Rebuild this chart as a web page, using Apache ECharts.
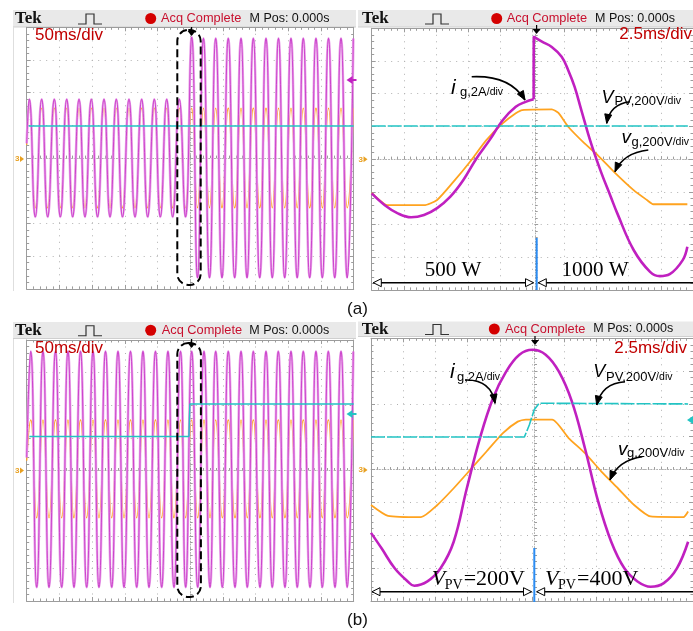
<!DOCTYPE html>
<html>
<head>
<meta charset="utf-8">
<script src="https://cdn.jsdelivr.net/npm/echarts@6.0.0/dist/echarts.min.js"></script>
<style>
html,body{margin:0;padding:0;background:#ffffff;}
#chart{width:693px;height:631px;}
</style>
</head>
<body>
<div id="chart"></div>
<script>
// ---- data: time in ms, amplitude in screen divisions ----
// (a) left, 50 ms/div
const igLeftA = [[0,0.45],[4.0,1.8],[13.1,-1.8],[22.9,1.8],[32.1,-1.8],[42.2,1.8],[51.4,-1.8],[61.2,1.8],[70.3,-1.8],[80.0,1.8],[89.1,-1.8],[98.8,1.8],[108.3,-1.8],[118.2,1.8],[127.4,-1.8],[137.0,1.8],[146.5,-1.8],[156.4,1.8],[165.6,-1.8],[175.8,1.8],[185.0,-1.8],[195.1,1.8],[204.3,-1.8],[214.1,1.8],[223.2,-1.8],[233.3,1.8],[242.8,-1.8],[252.3,3.7],[261.2,-3.66],[270.3,3.66],[279.5,-3.66],[289.0,3.66],[298.6,-3.66],[308.2,3.66],[318.0,-3.66],[327.7,3.66],[336.9,-3.66],[346.5,3.66],[356.3,-3.66],[365.9,3.66],[375.5,-3.66],[385.0,3.66],[394.5,-3.66],[404.1,3.66],[413.6,-3.66],[422.9,3.66],[432.7,-3.66],[442.3,3.66],[452.0,-3.66],[461.5,3.66],[471.0,-3.66],[480.6,3.66],[490.1,-3.66],[499.4,3.66]];
const vgLeftA = [[0,0.4],[4.0,1.53],[13.1,-1.52],[22.9,1.53],[32.1,-1.52],[42.2,1.53],[51.4,-1.52],[61.2,1.53],[70.3,-1.52],[80.0,1.53],[89.1,-1.52],[98.8,1.53],[108.3,-1.52],[118.2,1.53],[127.4,-1.52],[137.0,1.53],[146.5,-1.52],[156.4,1.53],[165.6,-1.52],[175.8,1.53],[185.0,-1.52],[195.1,1.53],[204.3,-1.52],[214.1,1.53],[223.2,-1.52],[233.3,1.53],[242.8,-1.52],[252.3,1.53],[261.2,-1.52],[270.3,1.53],[279.5,-1.52],[289.0,1.53],[298.6,-1.52],[308.2,1.53],[318.0,-1.52],[327.7,1.53],[336.9,-1.52],[346.5,1.53],[356.3,-1.52],[365.9,1.53],[375.5,-1.52],[385.0,1.53],[394.5,-1.52],[404.1,1.53],[413.6,-1.52],[422.9,1.53],[432.7,-1.52],[442.3,1.53],[452.0,-1.52],[461.5,1.53],[471.0,-1.52],[480.6,1.53],[490.1,-1.52],[499.4,1.53]];
const vpvLeftA = [[3,0.98],[500,0.98]];
// (a) right, 2.5 ms/div
const igRightA1 = [[0,-1.05],[1.02,-1.41],[2.03,-1.66],[3.06,-1.78],[4.07,-1.71],[5.09,-1.50],[6.12,-1.15],[7.13,-0.64],[8.15,0.02],[9.17,0.58],[10.19,1.19],[11.21,1.60],[11.97,1.75],[12.6,1.83]];
const igRightA2 = [[12.6,1.83],[12.61,3.74],[13.25,3.59],[14.01,3.43],[14.78,3.13],[15.29,2.72],[15.79,2.21],[16.31,1.50],[17.07,0.48],[17.84,-0.39],[18.60,-1.15],[19.11,-1.66],[20.38,-2.78],[21.66,-3.45],[22.42,-3.58],[23.19,-3.52],[24.20,-3.09],[24.56,-2.68]];
const vgRightA = [[0,-1.03],[1.27,-1.41],[4.07,-1.41],[5.09,-1.25],[6.37,-0.69],[7.65,-0.08],[8.92,0.58],[10.19,1.09],[11.21,1.40],[11.72,1.50],[14.01,1.52],[14.53,1.41],[15.29,0.99],[16.56,0.48],[17.58,0.12],[18.85,-0.39],[20.38,-0.95],[21.41,-1.25],[21.91,-1.38],[24.56,-1.38]];
const vpvRightA = [[0,1.01],[24.6,1.01]];
// (b) left, 50 ms/div
const igLeftB = [[0,0.4],[6.1,3.65],[15.3,-3.58],[24.9,3.65],[34.1,-3.58],[44.0,3.65],[53.5,-3.58],[63.1,3.65],[72.3,-3.58],[82.3,3.65],[91.7,-3.58],[101.4,3.65],[110.5,-3.58],[120.5,3.65],[130.0,-3.58],[139.6,3.65],[148.8,-3.58],[158.7,3.65],[168.2,-3.58],[177.8,3.65],[187.0,-3.58],[196.9,3.65],[206.4,-3.58],[216.0,3.65],[225.2,-3.58],[235.2,3.65],[243.1,-3.58],[252.3,3.65],[261.5,-3.58],[271.1,3.65],[280.3,-3.58],[289.0,3.65],[299.1,-3.58],[308.2,3.65],[318.5,-3.58],[327.7,3.65],[337.3,-3.58],[346.5,3.65],[356.7,-3.58],[365.9,3.65],[375.5,-3.58],[384.7,3.65],[394.9,-3.58],[404.1,3.65],[413.7,-3.58],[422.9,3.65],[433.2,-3.58],[442.3,3.65],[452.0,-3.58],[461.2,3.65],[471.4,-3.58],[480.6,3.65],[490.2,-3.58],[499.4,3.65]];
const vgLeftB = [[0,0.3],[6.1,1.55],[15.3,-1.45],[24.9,1.55],[34.1,-1.45],[44.0,1.55],[53.5,-1.45],[63.1,1.55],[72.3,-1.45],[82.3,1.55],[91.7,-1.45],[101.4,1.55],[110.5,-1.45],[120.5,1.55],[130.0,-1.45],[139.6,1.55],[148.8,-1.45],[158.7,1.55],[168.2,-1.45],[177.8,1.55],[187.0,-1.45],[196.9,1.55],[206.4,-1.45],[216.0,1.55],[225.2,-1.45],[235.2,1.55],[243.1,-1.45],[252.3,1.55],[261.5,-1.45],[271.1,1.55],[280.3,-1.45],[289.0,1.55],[299.1,-1.45],[308.2,1.55],[318.5,-1.45],[327.7,1.55],[337.3,-1.45],[346.5,1.55],[356.7,-1.45],[365.9,1.55],[375.5,-1.45],[384.7,1.55],[394.9,-1.45],[404.1,1.55],[413.7,-1.45],[422.9,1.55],[433.2,-1.45],[442.3,1.55],[452.0,-1.45],[461.2,1.55],[471.4,-1.45],[480.6,1.55],[490.2,-1.45],[499.4,1.55]];
const vpvLeftB = [[4,1.04],[248.0,1.04],[249.5,2.04],[500,2.04]];
// (b) right, 2.5 ms/div
const igRightB = [[0,-1.93],[0.82,-2.40],[1.84,-3.01],[2.85,-3.41],[3.36,-3.54],[4.38,-3.41],[5.40,-3.01],[6.42,-2.20],[7.44,-0.57],[8.46,0.96],[9.48,2.18],[10.50,2.99],[11.52,3.50],[12.54,3.65],[13.56,3.50],[14.58,2.99],[15.60,2.07],[16.61,0.65],[17.64,-0.98],[18.65,-2.20],[19.67,-3.01],[20.69,-3.41],[21.71,-3.57],[22.73,-3.46],[23.75,-3.01],[24.62,-2.20]];
const vgRightB = [[0,-1.08],[1.32,-1.41],[3.88,-1.45],[5.15,-1.08],[6.42,-0.57],[7.70,-0.01],[8.97,0.55],[10.24,1.11],[11.39,1.46],[12.03,1.52],[14.07,1.52],[15.34,0.96],[16.61,0.50],[17.89,-0.06],[19.17,-0.57],[20.43,-1.08],[21.71,-1.43],[24.26,-1.45],[24.62,-1.28]];
const vpvRightB = [[0,0.99],[11.91,0.99],[12.29,1.36],[12.67,1.82],[13.05,2.02],[13.43,2.02],[24.62,2.0]];

// ---- layout ----
const BORDER = '#9c9c9c', DOT = '#b0b0b0';
const MAG = '#c42cc4', MAG_L = '#eaa2ea', ORA = '#ffa31f', CYA = '#22c4c4';
const panels = [
  {left:26.7, top:27.3, w:327, h:261.6, xmax:500, xint:50},
  {left:371.7, top:28.3, w:327, h:261.6, xmax:25, xint:2.5},
  {left:26.7, top:340, w:327, h:261, xmax:500, xint:50},
  {left:371, top:338.3, w:327, h:262.5, xmax:25, xint:2.5}
];
const grid = [], xAxis = [], yAxis = [];
panels.forEach((p, gi) => {
  grid.push({left:p.left, top:p.top, width:p.w, height:p.h, show:false});
  const common = {
    gridIndex:gi, type:'value', axisLabel:{show:false},
    axisLine:{show:true, onZero:false, lineStyle:{color:BORDER, width:1}},
    axisTick:{show:true, inside:true, length:4, lineStyle:{color:BORDER}},
    minorTick:{show:true, splitNumber:5, length:2.5, lineStyle:{color:BORDER}},
    splitLine:{show:false}, minorSplitLine:{show:false}
  };
  const xc = Object.assign({}, common, {min:0, max:p.xmax, interval:p.xint});
  xAxis.push(Object.assign({}, xc, {position:'bottom', splitLine:{show:true, lineStyle:{color:DOT, type:[1,5.5], width:1}}}));
  xAxis.push(Object.assign({}, xc, {position:'top'}));
  xAxis.push(Object.assign({}, xc, {position:'bottom', offset:-p.h/2,
    axisLine:{show:true, onZero:false, lineStyle:{color:DOT, type:[1,1.8]}},
    axisTick:{show:true, inside:true, length:3, lineStyle:{color:BORDER}}}));
  const yc = Object.assign({}, common, {min:-4, max:4, interval:1});
  yAxis.push(Object.assign({}, yc, {position:'left', splitLine:{show:true, lineStyle:{color:DOT, type:[1,5.5], width:1}}}));
  yAxis.push(Object.assign({}, yc, {position:'right'}));
  yAxis.push(Object.assign({}, yc, {position:'left', offset:-p.w/2,
    axisLine:{show:true, onZero:false, lineStyle:{color:DOT, type:[1,1.8]}},
    axisTick:{show:true, inside:true, length:3, lineStyle:{color:BORDER}}}));
});

function ln(gi, data, color, width, z, smooth, extra) {
  return Object.assign({type:'line', xAxisIndex:3*gi, yAxisIndex:3*gi, data:data,
    symbol:'none', showSymbol:false, smooth:smooth||false, silent:true,
    lineStyle:{color:color, width:width}, z:z, animation:false}, extra||{});
}
const series = [
  ln(0, vgLeftA, ORA, 1.3, 2, 0.5),
  ln(0, igLeftA, MAG_L, 2.6, 3, 0.5),
  ln(0, igLeftA, MAG, 0.8, 4, 0.5),
  ln(0, vpvLeftA, CYA, 1.4, 5),
  ln(1, vgRightA, ORA, 1.8, 2, 0.2),
  ln(1, igRightA1, '#c020c0', 2.6, 3, 0.4),
  ln(1, igRightA2, '#c020c0', 2.6, 3, 0.4),
  ln(1, vpvRightA, CYA, 1.6, 4, false, {lineStyle:{color:CYA, width:1.6, type:[14,2]}}),
  ln(2, vgLeftB, ORA, 1.3, 2, 0.5),
  ln(2, igLeftB, MAG_L, 2.6, 3, 0.5),
  ln(2, igLeftB, MAG, 0.8, 4, 0.5),
  ln(2, vpvLeftB, CYA, 1.4, 5),
  ln(3, vgRightB, ORA, 1.8, 2, 0.2),
  ln(3, igRightB, '#c020c0', 2.6, 3, 0.4),
  ln(3, vpvRightB, CYA, 1.6, 4, false, {lineStyle:{color:CYA, width:1.6, type:[14,2]}})
];

// ---- graphic annotations ----
const G = [];
const SANS = '"Liberation Sans", Arial, sans-serif';
const SERIF = '"Liberation Serif", "Times New Roman", serif';
function txt(t, x, y, font, fill, align, z) {
  return {type:'text', z:z||100, style:{text:t, x:x, y:y, font:font, fill:fill||'#000',
    textAlign:align||'left', align:align||'left', textVerticalAlign:'middle', verticalAlign:'middle'}};
}
function rich(t, x, y, richDef) {
  return {type:'text', z:100, style:{text:t, x:x, y:y, rich:richDef, fill:'#000',
    textAlign:'left', align:'left', textVerticalAlign:'middle', verticalAlign:'middle'}};
}
function head(x, y, ang, len, wid, fill) {
  const bx = x - len*Math.cos(ang), by = y - len*Math.sin(ang);
  const px = -Math.sin(ang)*wid/2, py = Math.cos(ang)*wid/2;
  return {type:'polygon', z:100, shape:{points:[[x,y],[bx+px,by+py],[bx-px,by-py]]},
    style:{fill:fill||'#000', stroke:'#000', lineWidth:1}};
}
function curveArrow(x1, y1, cx, cy, x2, y2) {
  const ang = Math.atan2(y2-cy, x2-cx);
  G.push({type:'bezierCurve', z:100, shape:{x1:x1, y1:y1, x2:x2, y2:y2, cpx1:cx, cpy1:cy},
    style:{stroke:'#000', lineWidth:1.6, fill:null}});
  G.push(head(x2, y2, ang, 9, 7));
}
function header(x0, x1, y0, y1, tekX, pulseX, dotX, acqX, mposX) {
  const cy = (y0+y1)/2;
  G.push({type:'rect', z:0, shape:{x:x0, y:y0, width:x1-x0, height:y1-y0}, style:{fill:'#e9e9e9', stroke:null}});
  G.push({type:'line', z:0, shape:{x1:x0, y1:y1, x2:x1, y2:y1}, style:{stroke:'#cfcfcf', lineWidth:1}});
  G.push(txt('Tek', tekX, cy+0.5, 'bold 17px ' + SERIF, '#111'));
  const yb = cy+5.5, yt = cy-4.5, p = pulseX;
  G.push({type:'polyline', z:100, shape:{points:[[p,yb],[p+8,yb],[p+8,yt],[p+16,yt],[p+16,yb],[p+24,yb]]},
    style:{stroke:'#333', lineWidth:1.2, fill:null}});
  G.push({type:'circle', z:100, shape:{cx:dotX, cy:cy, r:5.5}, style:{fill:'#d40000'}});
  G.push(txt('Acq Complete', acqX, cy, '12.8px ' + SANS, '#c8102e'));
  G.push(txt('M Pos: 0.000s', mposX, cy, '12.5px ' + SANS, '#111'));
}
header(13, 356, 10, 27, 15, 78, 150.7, 161, 249.5);
header(358, 693, 10, 27, 362, 425, 496.7, 506.7, 595);
header(13, 356, 322, 338.5, 15, 78, 150.7, 161.7, 249.3);
header(358, 693, 321.5, 336.5, 361.7, 425, 494.3, 505, 593.3);

// faint screen frame lines
[[13.5,27,13.5,291],[13.5,339,13.5,603]].forEach(s => G.push({type:'line', z:0,
  shape:{x1:s[0], y1:s[1], x2:s[2], y2:s[3]}, style:{stroke:'#dedede', lineWidth:1}}));

// channel markers
function chMarker(x, y, color) {
  G.push(txt('3', x, y, 'bold 8px ' + SANS, color));
  G.push({type:'polygon', z:100, shape:{points:[[x+5,y-3],[x+5,y+3],[x+9,y]]}, style:{fill:color}});
}
chMarker(15, 159, '#e8a020');
chMarker(358.5, 159.3, '#e8a020');
chMarker(15, 470.5, '#e8a020');
chMarker(358.5, 470, '#e8a020');
function leftMarker(x, y, color) {
  G.push({type:'polygon', z:100, shape:{points:[[x,y],[x+6,y-4],[x+6,y+4]]}, style:{fill:color}});
  G.push({type:'line', z:100, shape:{x1:x+5, y1:y, x2:x+10, y2:y}, style:{stroke:color, lineWidth:2}});
}
leftMarker(346.5, 80, '#c020c0');
leftMarker(346.5, 414, CYA);
leftMarker(687, 420, CYA);

// time-base texts
G.push(txt('50ms/div', 35, 35, '17px ' + SANS, '#c00000'));
G.push(txt('50ms/div', 35, 348, '17px ' + SANS, '#c00000'));
G.push(txt('2.5ms/div', 692, 34, '17px ' + SANS, '#c00000', 'right'));
G.push(txt('2.5ms/div', 687, 348.5, '17px ' + SANS, '#c00000', 'right'));

// dashed capsules around the transient (left panels)
G.push({type:'rect', z:100, shape:{x:177.3, y:30, width:23.4, height:255, r:11},
  style:{fill:null, stroke:'#000', lineWidth:2, lineDash:[8,4]}});
G.push({type:'rect', z:100, shape:{x:177.3, y:343, width:23.6, height:254, r:11},
  style:{fill:null, stroke:'#000', lineWidth:2, lineDash:[8,4]}});

// trigger markers
function trig(x, y) {
  G.push({type:'polygon', z:101, shape:{points:[[x-4,y],[x+4,y],[x,y+5]]}, style:{fill:'#000'}});
  G.push({type:'line', z:101, shape:{x1:x, y1:y-4, x2:x, y2:y}, style:{stroke:'#000', lineWidth:1.2}});
}
trig(191.6, 31);
trig(191.6, 343);
trig(536.6, 29);
trig(535, 340);

// signal labels
const subRich = {a:{fontSize:13, fontFamily:'Liberation Sans', fill:'#000'}, b:{fontSize:10.5, fontFamily:'Liberation Sans', fill:'#000'}};
function sigLabel(main, mainSize, mx, my, sub, sx, sy) {
  G.push(txt(main, mx, my, 'italic ' + mainSize + 'px ' + SANS, '#000'));
  G.push(rich(sub, sx, sy, subRich));
}
// (a) right
sigLabel('i', 21, 451, 88, '{a|g,2A}{b|/div}', 460, 92.5);
sigLabel('V', 18, 601.5, 98, '{a|PV,200V}{b|/div}', 614.5, 101);
sigLabel('v', 19, 621.5, 138, '{a|g,200V}{b|/div}', 631.5, 142);
curveArrow(471.7, 76.7, 510, 75, 525, 100);
curveArrow(630, 101.7, 610, 104, 606.7, 123.3);
curveArrow(648.3, 150, 623, 153, 615, 171.7);
// (b) right
sigLabel('i', 21, 450, 372.5, '{a|g,2A}{b|/div}', 457, 377);
sigLabel('V', 18, 593.3, 371.5, '{a|PV,200V}{b|/div}', 606, 377);
sigLabel('v', 19, 618, 450, '{a|g,200V}{b|/div}', 627, 453);
curveArrow(465, 380, 491, 379, 495, 403.3);
curveArrow(625, 381.7, 602, 383, 596.7, 405);
curveArrow(642.3, 456.7, 618, 460, 610, 480);

// power / voltage region labels
G.push(txt('500 W', 453, 270, '21px ' + SERIF, '#000', 'center'));
G.push(txt('1000 W', 595, 270, '21px ' + SERIF, '#000', 'center'));
function vpvText(x, val) {
  G.push(txt('V', x, 579, 'italic 22px ' + SERIF, '#000'));
  G.push(txt('PV', x+13, 585, '14px ' + SERIF, '#000'));
  G.push(txt('=' + val + 'V', x+32, 579, '22px ' + SERIF, '#000'));
}
vpvText(431.7, '200');
vpvText(545, '400');

// double arrows
function dblArrow(y, xa, xb, xc) {
  G.push({type:'line', z:100, shape:{x1:xa, y1:y, x2:xb, y2:y}, style:{stroke:'#000', lineWidth:1.6}});
  G.push({type:'line', z:100, shape:{x1:xc, y1:y, x2:695, y2:y}, style:{stroke:'#000', lineWidth:1.6}});
  G.push(head(xa, y, Math.PI, 8, 8, '#fff'));
  G.push(head(xb, y, 0, 8, 8, '#fff'));
  G.push(head(xc, y, Math.PI, 8, 8, '#fff'));
}
dblArrow(282.7, 373.3, 533.5, 538.3);
dblArrow(591.7, 372, 531.5, 536.7);
G.push({type:'line', z:101, shape:{x1:536.7, y1:238, x2:536.7, y2:290}, style:{stroke:'#2b8cf2', lineWidth:2}});
G.push({type:'line', z:101, shape:{x1:534.3, y1:548, x2:534.3, y2:602}, style:{stroke:'#2b8cf2', lineWidth:2}});

// sub-figure captions
G.push(txt('(a)', 357.5, 309.5, '17px ' + SANS, '#111', 'center'));
G.push(txt('(b)', 357.5, 620, '17px ' + SANS, '#111', 'center'));

const chart = echarts.init(document.getElementById('chart'), null, {renderer:'canvas'});
chart.setOption({
  animation:false,
  backgroundColor:'#ffffff',
  grid:grid, xAxis:xAxis, yAxis:yAxis, series:series,
  graphic:{elements:G}
});
</script>
</body>
</html>
